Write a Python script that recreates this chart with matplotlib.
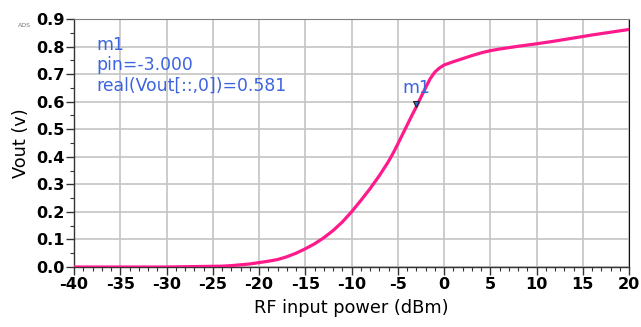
import numpy as np
import matplotlib
matplotlib.use("Agg")
import matplotlib.pyplot as plt
import matplotlib.transforms as mtransforms
from matplotlib.ticker import MultipleLocator

# Data
pin = [-40, -35, -30, -28, -26, -24, -23, -22, -21, -20, -19, -18, -17, -16, -15,
       -14, -13, -12, -11, -10, -9, -8, -7, -6, -5.5, -5, -4.5, -4, -3.5, -3,
       -2.5, -2, -1.5, -1, -0.5, 0, 1, 2, 3, 4, 5, 6, 8, 10, 12, 14, 16, 18, 20]
vout = [0.0, 0.0, 0.0, 0.001, 0.002, 0.003, 0.005, 0.008, 0.011, 0.016, 0.021,
        0.027, 0.037, 0.050, 0.066, 0.084, 0.106, 0.132, 0.163, 0.200, 0.241,
        0.284, 0.331, 0.383, 0.413, 0.446, 0.480, 0.514, 0.548, 0.581,
        0.616, 0.650, 0.683, 0.707, 0.722, 0.733, 0.745, 0.756, 0.767, 0.777,
        0.785, 0.791, 0.801, 0.810, 0.820, 0.831, 0.842, 0.852, 0.862]

marker_pin = -3.0
marker_val = 0.581
marker_text = ["m1", "pin=-3.000", "real(Vout[::,0])=0.581"]

xticks = list(range(-40, 21, 5))
yticks = [0.0, 0.1, 0.2, 0.3, 0.4, 0.5, 0.6, 0.7, 0.8, 0.9]

plt.rcParams["font.family"] = ["DejaVu Sans"]
blue = "#3c64e0"

W, H = 641, 327
fig = plt.figure(figsize=(W / 100, H / 100), dpi=100)
ax = fig.add_axes([74 / W, 1 - 267 / H, 555 / W, 248 / H])

ax.plot(pin, vout, color="#ff1a8c", linewidth=2.3, solid_capstyle="round",
        solid_joinstyle="round", zorder=3)

# marker triangle sits just above the point
up = mtransforms.offset_copy(ax.transData, fig=fig, x=0, y=3, units="dots")
ax.plot([marker_pin], [marker_val], marker="v", markersize=4.6, transform=up,
        markerfacecolor=blue, markeredgecolor="#202020", markeredgewidth=0.8, zorder=4)
ax.text(marker_pin - 1.45, marker_val + 0.051, "m1", color=blue, fontsize=12.4,
        va="baseline", zorder=5)

# marker readout in the top left
for i, line in enumerate(marker_text):
    fig.text(96 / W, 1 - (49.5 + 20.6 * i) / H, line, color=blue, fontsize=12.4,
             va="baseline", ha="left")

ax.set_xlim(-40, 20)
ax.set_ylim(0.0, 0.9)
ax.set_xticks(xticks)
ax.set_yticks(yticks)
ax.set_xticklabels([str(t) for t in xticks])
ax.set_yticklabels([f"{t:.1f}" for t in yticks])
ax.xaxis.set_minor_locator(MultipleLocator(1))
ax.yaxis.set_minor_locator(MultipleLocator(0.05))

for lab in ax.get_xticklabels() + ax.get_yticklabels():
    lab.set_fontweight("bold")
    lab.set_fontsize(11.6)

ax.tick_params(which="major", direction="out", length=5.5, width=1, color="#333333")
ax.tick_params(which="minor", direction="out", length=3, width=0.8, color="#333333")
ax.tick_params(axis="x", which="major", pad=2)
ax.tick_params(axis="y", which="major", pad=1)

ax.grid(True, which="major", color="#c4c4c4", linewidth=1.2, zorder=0)

for side in ["left", "bottom"]:
    ax.spines[side].set_color("#333333")
    ax.spines[side].set_linewidth(1)
ax.spines["top"].set_color("#808080")
ax.spines["right"].set_color("#111111")

ax.set_xlabel("RF input power (dBm)", fontsize=12.8, labelpad=5)
ax.set_ylabel("Vout (v)", fontsize=12.8, labelpad=5)

fig.text(18 / W, 1 - 27 / H, "ADS", fontsize=4.5, color="#777777")

fig.savefig("out.png", dpi=100)
